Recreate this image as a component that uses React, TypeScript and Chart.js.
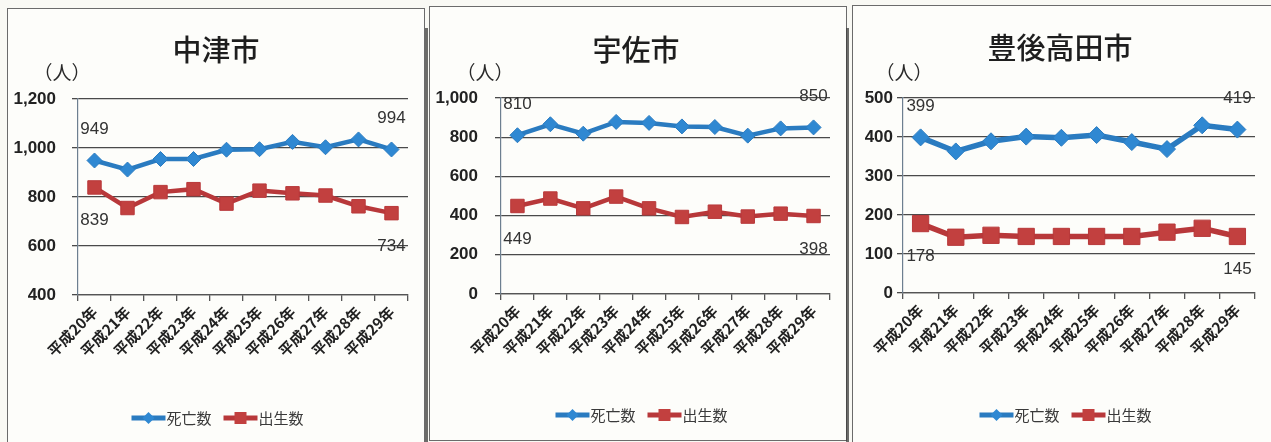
import React, { useEffect, useRef } from "react";
import { Chart, registerables } from "chart.js";

Chart.register(...registerables);

// 年度ラベル
const years = ["平成20年", "平成21年", "平成22年", "平成23年", "平成24年", "平成25年", "平成26年", "平成27年", "平成28年", "平成29年"];

// 中津市
const nakatsuDeaths = [949, 912, 955, 955, 993, 995, 1025, 1003, 1035, 994];
const nakatsuBirths = [839, 755, 820, 832, 773, 826, 815, 806, 762, 734];

// 宇佐市
const usaDeaths = [810, 866, 818, 878, 873, 855, 852, 808, 845, 850];
const usaBirths = [449, 487, 437, 497, 437, 393, 420, 395, 410, 398];

// 豊後高田市
const bungoDeaths = [399, 363, 389, 401, 398, 405, 387, 369, 430, 419];
const bungoBirths = [178, 143, 148, 145, 145, 145, 145, 156, 166, 145];

const seriesNames = ["死亡数", "出生数"];
const BLUE_LINE = "#2a7bc0";
const BLUE_FILL = "#2f88d2";
const RED_LINE = "#b8383a";
const RED_FILL = "#c2403f";

const NUM_FONT = "'Liberation Sans', Arial, sans-serif";
const JP_FONT = "'Noto Sans CJK JP', sans-serif";

type Panel = {
  title: string;
  deaths: number[];
  births: number[];
  yMin: number;
  yMax: number;
  yStep: number;
  // panel box (page coordinates)
  boxLeft: number;
  boxTop: number;
  boxWidth: number;
  boxHeight: number;
  // plot area (page coordinates)
  plotLeft: number;
  plotRight: number;
  plotTop: number;
  plotBottom: number;
  tickPad: number;
  titleX: number;
  titleY: number;
  unitX: number;
  unitY: number;
  legendX: number;
  legendY: number;
  lineWidth: number;
  diamondR: number;
  squareR: number;
};

const panels: Panel[] = [
  {
    title: "中津市", deaths: nakatsuDeaths, births: nakatsuBirths,
    yMin: 400, yMax: 1200, yStep: 200,
    boxLeft: 7, boxTop: 8, boxWidth: 418, boxHeight: 440,
    plotLeft: 78, plotRight: 408, plotTop: 99, plotBottom: 295, tickPad: 16,
    titleX: 216, titleY: 50, unitX: 62, unitY: 72, legendX: 217, legendY: 418,
    lineWidth: 4.5, diamondR: 7.5, squareR: 9.5,
  },
  {
    title: "宇佐市", deaths: usaDeaths, births: usaBirths,
    yMin: 0, yMax: 1000, yStep: 200,
    boxLeft: 429, boxTop: 6, boxWidth: 418, boxHeight: 435,
    plotLeft: 501, plotRight: 830, plotTop: 98, plotBottom: 294, tickPad: 17,
    titleX: 636, titleY: 50, unitX: 485, unitY: 72, legendX: 641, legendY: 415,
    lineWidth: 4.5, diamondR: 7.5, squareR: 9.5,
  },
  {
    title: "豊後高田市", deaths: bungoDeaths, births: bungoBirths,
    yMin: 0, yMax: 500, yStep: 100,
    boxLeft: 852, boxTop: 5, boxWidth: 425, boxHeight: 445,
    plotLeft: 903, plotRight: 1255, plotTop: 98, plotBottom: 293, tickPad: 4,
    titleX: 1060, titleY: 48, unitX: 904, unitY: 72, legendX: 1065, legendY: 415,
    lineWidth: 5.5, diamondR: 8.5, squareR: 11.5,
  },
];

const BORDER = 1;

function drawDiamond(ctx: CanvasRenderingContext2D, x: number, y: number, r: number) {
  ctx.beginPath();
  ctx.moveTo(x, y - r);
  ctx.lineTo(x + r, y);
  ctx.lineTo(x, y + r);
  ctx.lineTo(x - r, y);
  ctx.closePath();
  ctx.fill();
}

function PanelChart({ p }: { p: Panel }) {
  const ref = useRef<HTMLCanvasElement | null>(null);
  const innerLeft = p.boxLeft + BORDER;
  const innerTop = p.boxTop + BORDER;
  const w = p.boxWidth - 2 * BORDER;
  const h = p.boxHeight - 2 * BORDER;

  useEffect(() => {
    if (!ref.current) return;
    const caLeft = p.plotLeft - innerLeft;
    const caRight = p.plotRight - innerLeft;
    const caTop = p.plotTop - innerTop;
    const caBottom = p.plotBottom - innerTop;

    const decor = {
      id: "decor",
      afterDraw(chart: any) {
        const ctx: CanvasRenderingContext2D = chart.ctx;
        ctx.save();
        // first / last value labels
        ctx.font = `17px ${NUM_FONT}`;
        ctx.fillStyle = "#333";
        ctx.textAlign = "center";
        ctx.textBaseline = "middle";
        chart.data.datasets.forEach((ds: any, di: number) => {
          const meta = chart.getDatasetMeta(di);
          const n = meta.data.length;
          [0, n - 1].forEach((i) => {
            const pt = meta.data[i];
            const dy = di === 0 ? -31 : 33;
            ctx.fillText(String(ds.data[i]), pt.x, pt.y + dy);
          });
        });

        // title
        ctx.font = `500 29px ${JP_FONT}`;
        ctx.fillStyle = "#1e1e1e";
        ctx.fillText(p.title, p.titleX - innerLeft, p.titleY - innerTop);

        // unit
        ctx.font = `19px ${JP_FONT}`;
        ctx.fillStyle = "#2a2a2a";
        ctx.fillText("（人）", p.unitX - innerLeft, p.unitY - innerTop + 1);

        // legend
        ctx.font = `15px ${JP_FONT}`;
        const lineLen = 34;
        const gap = 13;
        const t1 = ctx.measureText(seriesNames[0]).width;
        const t2 = ctx.measureText(seriesNames[1]).width;
        const total = lineLen + t1 + gap + lineLen + t2;
        let x = p.legendX - innerLeft - total / 2;
        const y = p.legendY - innerTop;
        ctx.textAlign = "left";
        ctx.lineWidth = 5;
        ctx.strokeStyle = BLUE_LINE;
        ctx.beginPath();
        ctx.moveTo(x, y);
        ctx.lineTo(x + lineLen, y);
        ctx.stroke();
        ctx.fillStyle = BLUE_FILL;
        drawDiamond(ctx, x + lineLen / 2, y, 6);
        ctx.fillStyle = "#3a3a3a";
        ctx.fillText(seriesNames[0], x + lineLen + 1, y);
        x += lineLen + t1 + gap;
        ctx.strokeStyle = RED_LINE;
        ctx.beginPath();
        ctx.moveTo(x, y);
        ctx.lineTo(x + lineLen, y);
        ctx.stroke();
        ctx.fillStyle = RED_FILL;
        ctx.fillRect(x + lineLen / 2 - 6, y - 6, 12, 12);
        ctx.fillStyle = "#3a3a3a";
        ctx.fillText(seriesNames[1], x + lineLen + 1, y);
        ctx.restore();
      },
    };

    const chart = new Chart(ref.current, {
      type: "line",
      data: {
        labels: years,
        datasets: [
          {
            label: seriesNames[0],
            data: p.deaths,
            borderColor: BLUE_LINE,
            backgroundColor: BLUE_FILL,
            borderWidth: p.lineWidth,
            pointStyle: "rectRot",
            pointRadius: p.diamondR,
            pointBorderColor: BLUE_LINE,
            pointBorderWidth: 1,
            tension: 0,
          },
          {
            label: seriesNames[1],
            data: p.births,
            borderColor: RED_LINE,
            backgroundColor: RED_FILL,
            borderWidth: p.lineWidth,
            pointStyle: "rect",
            pointRadius: p.squareR,
            pointBorderColor: RED_LINE,
            pointBorderWidth: 1,
            tension: 0,
          },
        ],
      },
      options: {
        animation: false,
        responsive: false,
        devicePixelRatio: 1,
        layout: {
          padding: { left: 0, right: w - caRight, top: caTop, bottom: 0 },
        },
        plugins: {
          legend: { display: false },
          title: { display: false },
          tooltip: { enabled: false },
        },
        scales: {
          x: {
            offset: true,
            afterFit: (scale: any) => {
              scale.height = h - caBottom;
            },
            grid: {
              offset: true,
              drawOnChartArea: false,
              drawTicks: true,
              tickLength: 6,
              color: "#555",
              lineWidth: 1.3,
            },
            border: { display: true, color: "#555", width: 1.3 },
            ticks: {
              minRotation: 45,
              maxRotation: 45,
              autoSkip: false,
              padding: 2,
              color: "#222",
              font: { family: JP_FONT, size: 15, weight: "bold" },
            },
          },
          y: {
            min: p.yMin,
            max: p.yMax,
            afterFit: (scale: any) => {
              scale.width = caLeft;
            },
            grid: {
              color: "#4a4a4a",
              lineWidth: 1.3,
              drawTicks: true,
              tickLength: 6,
            },
            border: { display: true, color: "#6d7f90", width: 1.2 },
            ticks: {
              stepSize: p.yStep,
              padding: p.tickPad,
              color: "#222",
              font: { family: NUM_FONT, size: 17, weight: "bold" },
              callback: (v: any) => Number(v).toLocaleString("en-US"),
            },
          },
        },
      },
      plugins: [decor],
    } as any);
    return () => chart.destroy();
  }, []);

  return (
    <div
      style={{
        position: "absolute",
        left: p.boxLeft,
        top: p.boxTop,
        width: w,
        height: h,
        border: `${BORDER}px solid #6b6b6b`,
        background: "#fdfdfa",
      }}
    >
      <canvas ref={ref} width={w} height={h} style={{ display: "block", width: w, height: h }} />
    </div>
  );
}

export default function App() {
  return (
    <div
      style={{
        position: "fixed",
        left: 0,
        top: 0,
        width: 1271,
        height: 442,
        overflow: "hidden",
        background: "#f9f9f4",
      }}
    >
      {panels.map((p) => (
        <PanelChart key={p.title} p={p} />
      ))}
      <div style={{ position: "absolute", left: 425, top: 28, width: 3, height: 414, background: "#3c3c3c", opacity: 0.75 }} />
      <div style={{ position: "absolute", left: 846, top: 28, width: 3, height: 414, background: "#3c3c3c", opacity: 0.75 }} />
    </div>
  );
}
